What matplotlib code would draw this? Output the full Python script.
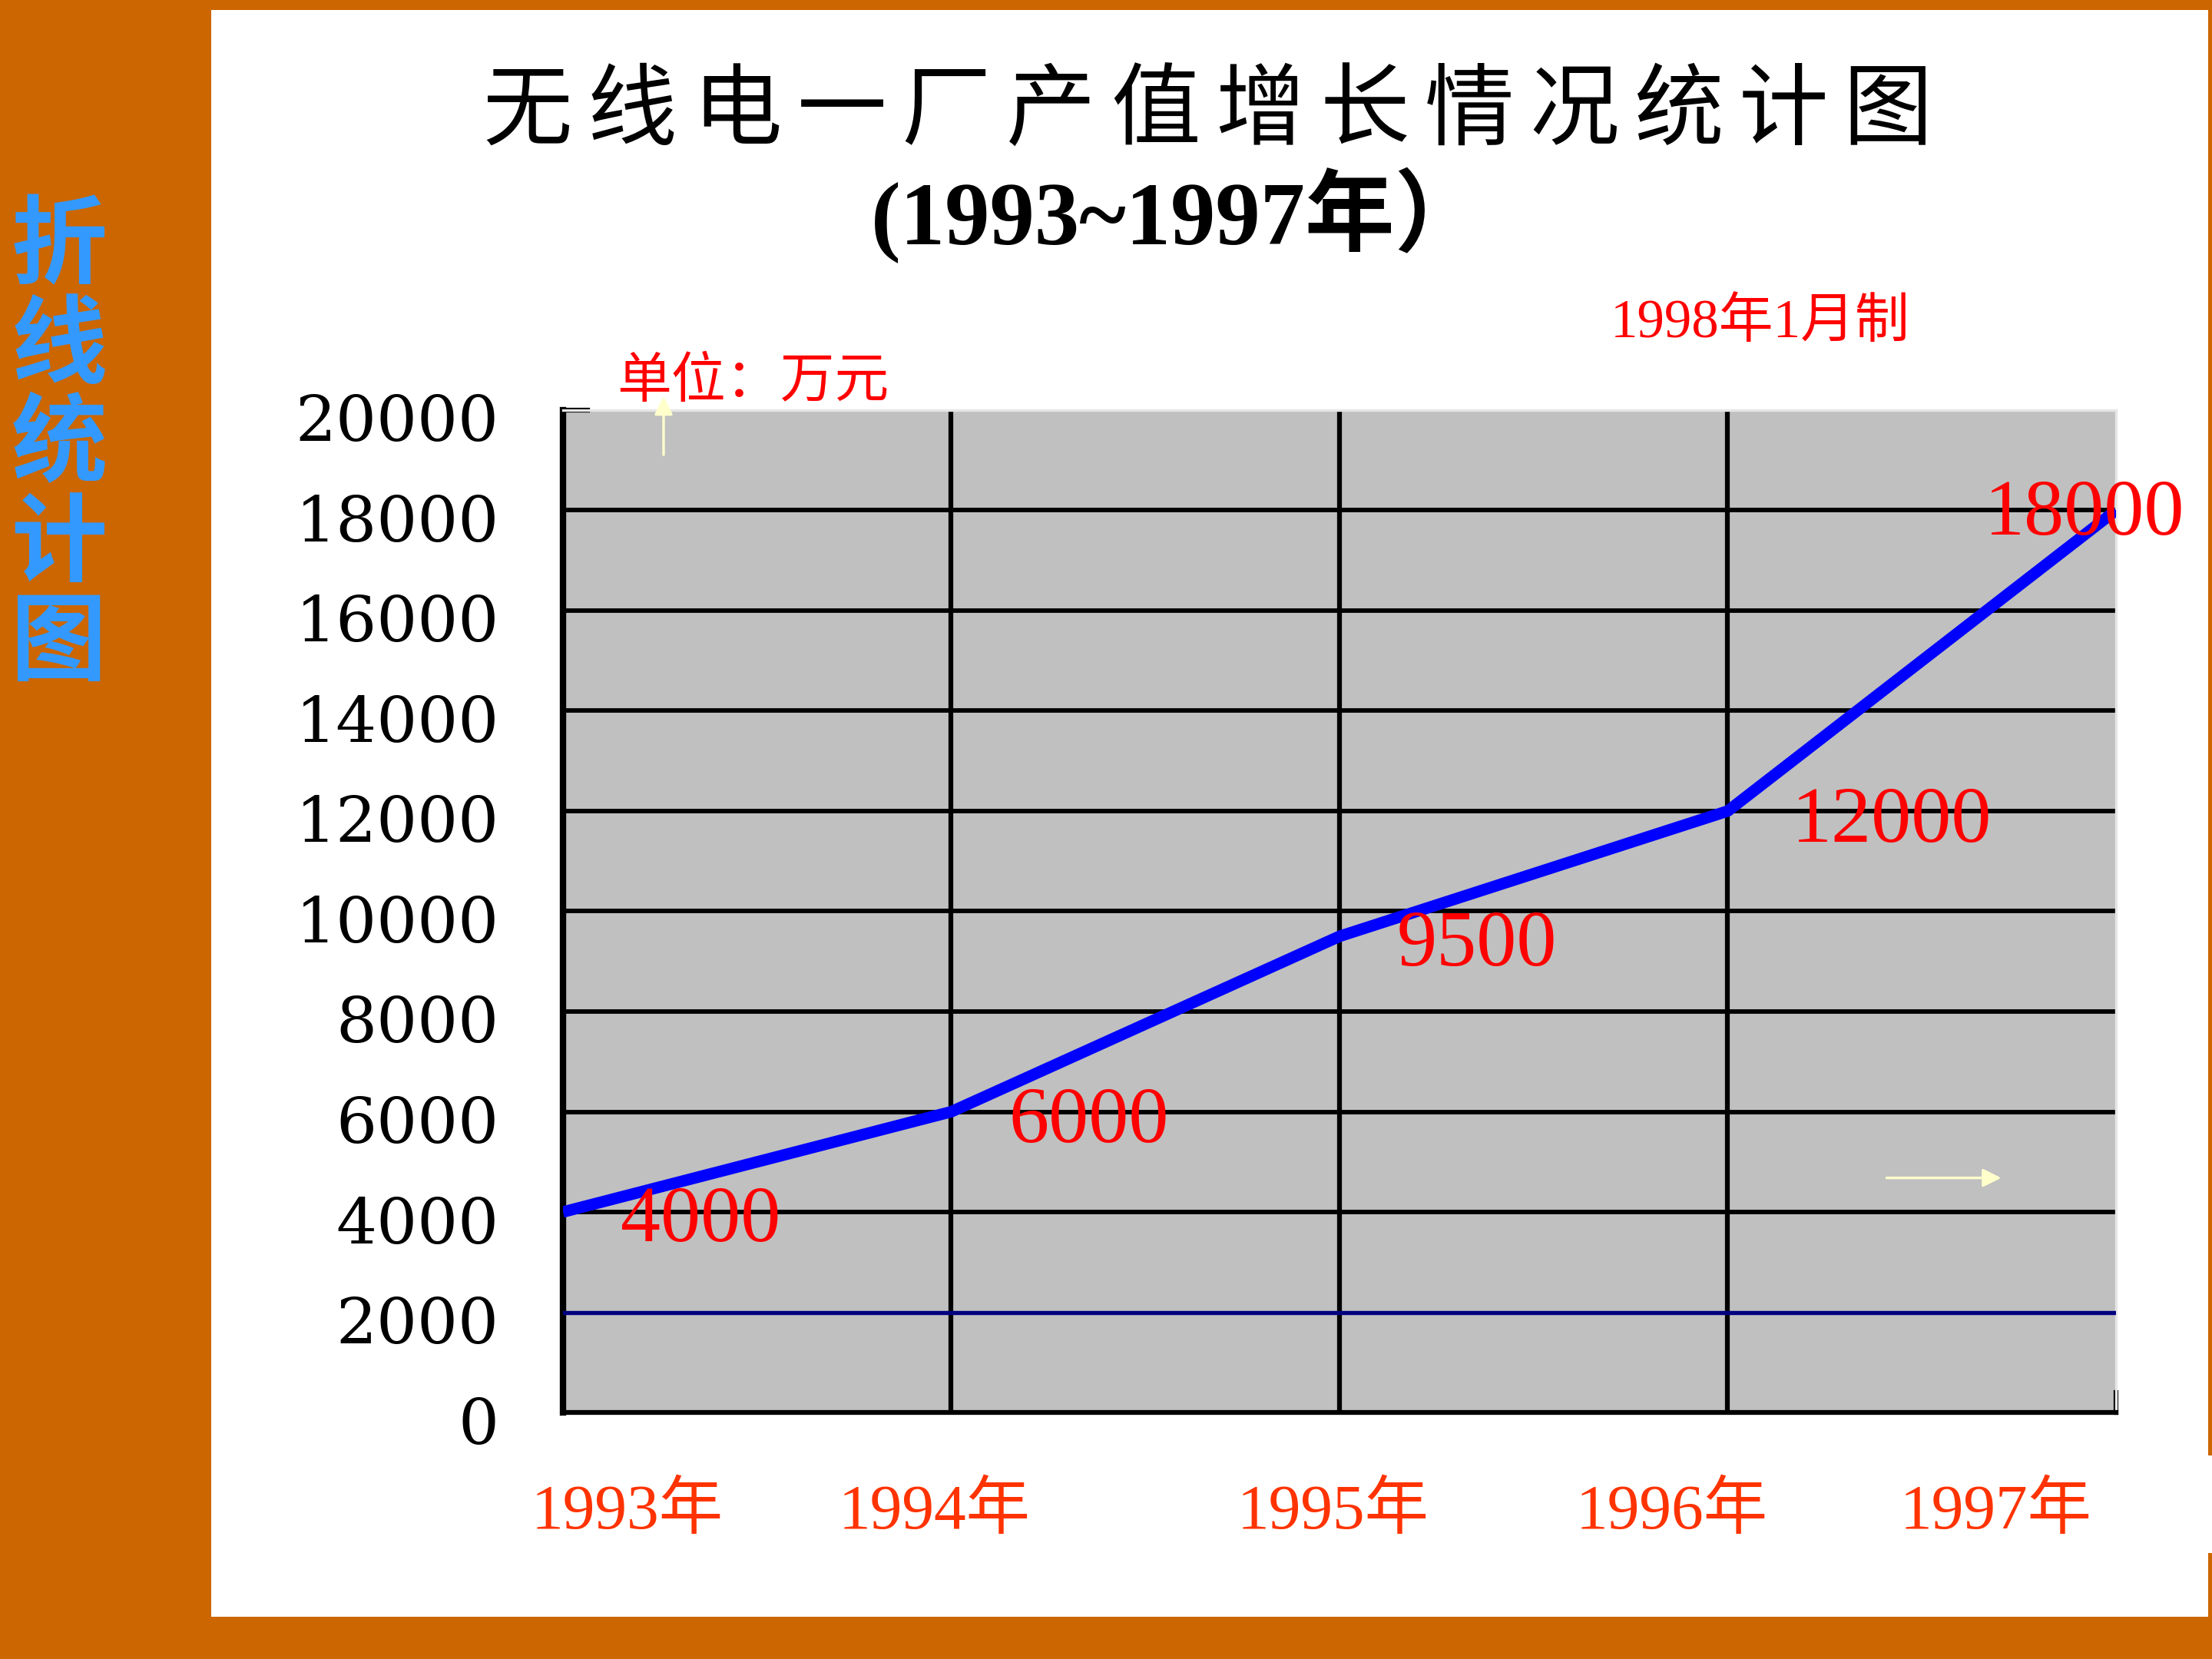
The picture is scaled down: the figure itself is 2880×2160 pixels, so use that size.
import matplotlib
matplotlib.use('Agg')
import matplotlib.pyplot as plt
from matplotlib.patches import Rectangle, FancyArrowPatch
from matplotlib.transforms import ScaledTranslation

# datos del grafico
years = ['1993年', '1994年', '1995年', '1996年', '1997年']
output = [4000, 6000, 9500, 12000, 18000]
yticks = [0, 2000, 4000, 6000, 8000, 10000, 12000, 14000, 16000, 18000, 20000]
title = '无线电一厂产值增长情况统计图'
subtitle = '(1993~1997年）'
side_title = '折线统计图'
unit_text = '单位：万元'
date_text = '1998年1月制'

# posiciones a mano (pixeles / puntos)
xlabel_shift_px = [84, -22, -8, -73, -156]
value_offsets = [(18, -3), (18, -3.5), (18, -3), (20, -3.5), (-41, -1.5)]

ORANGE = '#CC6600'
serif_cjk = ['Liberation Serif', 'Noto Sans CJK SC']

fig = plt.figure(figsize=(9.6, 7.2), dpi=300)
fig.patch.set_facecolor(ORANGE)
# panel blanco
fig.add_artist(Rectangle((275 / 2880, 55 / 2160), 2600 / 2880, 2092 / 2160,
                         transform=fig.transFigure, facecolor='white',
                         edgecolor='none', zorder=0))
# hueco blanco en el borde derecho
fig.add_artist(Rectangle((2875 / 2880, 138 / 2160), 5 / 2880, 127 / 2160,
                         transform=fig.transFigure, facecolor='white',
                         edgecolor='none', zorder=0))

# texto vertical de la izquierda
fig.text(0.0267, 0.731, '\n'.join(side_title), ha='center', va='center',
         fontsize=30, color='#3399FF', family='Noto Sans CJK SC',
         fontweight='bold', linespacing=1.02)

# titulo, letra por letra para dejar el espacio
x0 = 619 / 2880
step = (2526 - 619) / 2880 / len(title)
for i, ch in enumerate(title):
    fig.text(x0 + step * (i + 0.5), 0.932, ch, ha='center', va='center',
             fontsize=28, color='black', family='Noto Sans CJK SC')
fig.text(1134 / 2880, 0.870, subtitle, ha='left', va='center', fontsize=28,
         fontweight='bold', color='black', family=serif_cjk)

fig.text(0.728, 0.805, date_text, ha='left', va='center', fontsize=17,
         color='#FF0000', family=serif_cjk)
fig.text(0.279, 0.770, unit_text, ha='left', va='center', fontsize=17,
         color='#FF0000', family='Noto Sans CJK SC')

ax = fig.add_axes([0.2545, 0.1486, 0.7021, 0.6042])
ax.set_facecolor('#C0C0C0')
x = list(range(len(years)))
ax.set_xlim(x[0], x[-1])
ax.set_ylim(yticks[0], yticks[-1])

for v in yticks[1:-1]:
    if v == 2000:
        ax.axhline(v, color='#000080', lw=1.3, zorder=3)
    else:
        ax.axhline(v, color='black', lw=1.4, zorder=2)
for i in x[1:-1]:
    ax.axvline(i, color='black', lw=1.5, zorder=2)

ax.plot(x, output, color='#0000FF', lw=3.6, zorder=5, solid_capstyle='butt')

for xi, v, off in zip(x, output, value_offsets):
    ax.annotate(str(v), (xi, v), xytext=off, textcoords='offset points',
                ha='left', va='center', fontsize=25, color='#FF0000',
                family='Liberation Serif', zorder=6, annotation_clip=False)

ax.set_yticks(yticks)
ax.set_yticklabels([str(v) for v in yticks], family='DejaVu Serif', fontsize=20)
ax.tick_params(axis='y', length=0, pad=20)
for lbl in ax.get_yticklabels():
    lbl.set_transform(lbl.get_transform() + ScaledTranslation(0, -10 / 300, fig.dpi_scale_trans))
ax.set_xticks(x)
ax.set_xticklabels(years, family=serif_cjk, fontsize=20, color='#FF3300')
ax.tick_params(axis='x', length=0, pad=22)
for lbl, dx in zip(ax.get_xticklabels(), xlabel_shift_px):
    lbl.set_transform(lbl.get_transform() + ScaledTranslation(dx / 300, 0, fig.dpi_scale_trans))

ax.spines['left'].set_color('black')
ax.spines['left'].set_linewidth(2)
ax.spines['bottom'].set_color('black')
ax.spines['bottom'].set_linewidth(1.5)
for s in ['top', 'right']:
    ax.spines[s].set_color('#E6E6E6')
    ax.spines[s].set_linewidth(0.8)

# marquitas de las esquinas
ax.plot([0, 0.016], [1, 1], transform=ax.transAxes, color='black', lw=1.5, clip_on=False)
ax.plot([1, 1], [0, 0.02], transform=ax.transAxes, color='black', lw=1.5, clip_on=False)

# flechas amarillas
fig.add_artist(FancyArrowPatch((0.300, 0.722), (0.300, 0.765), transform=fig.transFigure,
                               arrowstyle='-|>', mutation_scale=12, lw=0.8,
                               color='#FFFFCC', zorder=10))
fig.add_artist(FancyArrowPatch((0.850, 0.290), (0.9076, 0.290), transform=fig.transFigure,
                               arrowstyle='-|>', mutation_scale=12, lw=0.8,
                               color='#FFFFCC', zorder=10))

fig.savefig('out.png', dpi=300, facecolor=fig.get_facecolor())
